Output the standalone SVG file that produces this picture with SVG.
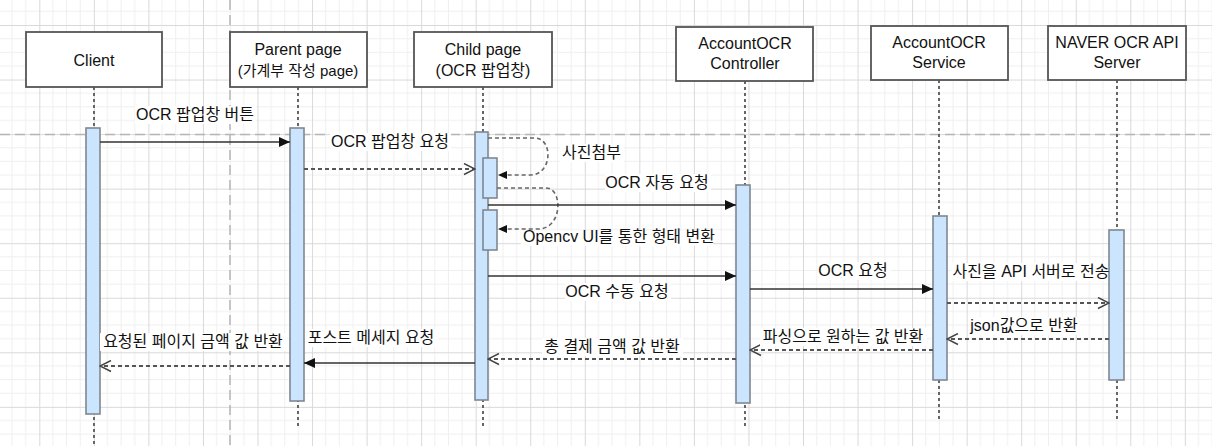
<svg xmlns="http://www.w3.org/2000/svg" width="1212" height="446" viewBox="0 0 1212 446">
<defs>
<pattern id="grid" patternUnits="userSpaceOnUse" x="39.3" y="25" width="54.55" height="54.55">
<path d="M13.64 0V54.55M27.27 0V54.55M40.91 0V54.55M0 13.64H54.55M0 27.27H54.55M0 40.91H54.55" stroke="#efefef" stroke-width="1" fill="none"/>
<path d="M0.5 0V54.55M0 0.5H54.55" stroke="#d9d9d9" stroke-width="1" fill="none"/>
</pattern>
<marker id="block" markerUnits="userSpaceOnUse" viewBox="0 0 11 10" refX="11" refY="5" markerWidth="11" markerHeight="10" orient="auto">
<path d="M0 0L11 5L0 10z" fill="#111"/>
</marker>
<marker id="open" markerUnits="userSpaceOnUse" viewBox="-1 -1 13 13" refX="11" refY="5.5" markerWidth="13" markerHeight="13" orient="auto">
<path d="M0 0L11 5.5L0 11" fill="none" stroke="#444" stroke-width="1.5"/>
</marker>
<marker id="small" markerUnits="userSpaceOnUse" viewBox="0 0 9 8" refX="9" refY="4" markerWidth="9" markerHeight="8" orient="auto">
<path d="M0 0L9 4L0 8z" fill="#111"/>
</marker>
</defs>
<style>
.box{fill:#fff;stroke:#555;stroke-width:1.8}
.bar{fill:#cce5ff;stroke:#7f8791;stroke-width:1.6}
.life{stroke:#666;stroke-width:2;stroke-dasharray:3 3;fill:none}
.guide{stroke:#b5b5b5;stroke-width:1.5;stroke-dasharray:10 5;fill:none}
.msg{stroke:#333;stroke-width:1.6;fill:none;marker-end:url(#block)}
.ret{stroke:#555;stroke-width:2;stroke-dasharray:4 3;fill:none;marker-end:url(#open)}
.self{stroke:#666;stroke-width:1.6;stroke-dasharray:4 3;fill:none;marker-end:url(#small)}
.h{font-family:"Liberation Sans","Noto Sans CJK KR",sans-serif;font-size:16px;fill:#111;text-anchor:middle}
.h2{font-size:15px}
.lbl{font-family:"Liberation Sans","Noto Sans CJK KR",sans-serif;font-size:16px;fill:#111}
.lbg{fill:#fff}
</style>
<rect width="1212" height="446" fill="#fff"/>
<rect width="1212" height="446" fill="url(#grid)"/>
<path class="guide" d="M230 0V446M0 134.5H1212"/>

<g id="lifelines">
<path class="life" d="M94 87V446M298 87V428M483 87V428M745 81V428M939 80V420M1117 80V420"/>
</g>

<g id="client">
<rect class="box" x="26" y="32" width="136" height="55"/>
<text class="h" x="94" y="66">Client</text>
<rect class="bar" x="86" y="128" width="14" height="286"/>
</g>
<g id="parent">
<rect class="box" x="230" y="32" width="137" height="55"/>
<text class="h" x="298" y="55">Parent page</text>
<text class="h h2" x="298" y="76">(가계부 작성 page)</text>
<rect class="bar" x="290" y="128" width="14" height="273"/>
</g>
<g id="child">
<rect class="box" x="414" y="32" width="138" height="55"/>
<text class="h" x="483" y="55">Child page</text>
<text class="h" x="483" y="76">(OCR 팝업창)</text>
<rect class="bar" x="475" y="132" width="13" height="268"/>
<rect class="bar" x="483" y="158" width="14" height="40"/>
<rect class="bar" x="483" y="210" width="14" height="40"/>
</g>
<g id="controller">
<rect class="box" x="676" y="27" width="137" height="54"/>
<text class="h" x="745" y="49">AccountOCR</text>
<text class="h" x="745" y="69">Controller</text>
<rect class="bar" x="736" y="185" width="14" height="218"/>
</g>
<g id="service">
<rect class="box" x="871" y="26" width="137" height="54"/>
<text class="h" x="939" y="48">AccountOCR</text>
<text class="h" x="939" y="68">Service</text>
<rect class="bar" x="933" y="216" width="14" height="164"/>
</g>
<g id="naver">
<rect class="box" x="1048" y="26" width="138" height="54"/>
<text class="h" x="1117" y="48">NAVER OCR API</text>
<text class="h" x="1117" y="68">Server</text>
<rect class="bar" x="1109" y="230" width="15" height="150"/>
</g>

<g id="connectors">
<path class="msg" d="M100 142H290"/>
<path class="ret" d="M304 169H475"/>
<path class="self" d="M488 138H535C553 138 553 175 530 175H498"/>
<path class="self" d="M497 188H546C563 188 563 229 538 229H498"/>
<path class="msg" d="M488 205H736"/>
<path class="msg" d="M488 276H736"/>
<path class="msg" d="M750 289H933"/>
<path class="ret" d="M947 303H1109"/>
<path class="ret" d="M1109 339H947"/>
<path class="ret" d="M933 350H750"/>
<path class="ret" d="M736 359H488"/>
<path class="msg" d="M475 363H304"/>
<path class="ret" d="M290 366H100"/>
</g>

<g id="labels">
<rect class="lbg" x="135" y="106" width="121" height="18"/>
<text class="lbl" x="195" y="120" text-anchor="middle">OCR 팝업창 버튼</text>
<rect class="lbg" x="330" y="133" width="121" height="18"/>
<text class="lbl" x="390" y="147" text-anchor="middle">OCR 팝업창 요청</text>
<rect class="lbg" x="560" y="144" width="64" height="18"/>
<text class="lbl" x="562" y="158">사진첨부</text>
<rect class="lbg" x="521" y="231" width="192" height="15"/>
<text class="lbl" x="523" y="242">Opencv UI를 통한 형태 변환</text>
<rect class="lbg" x="605" y="174" width="106" height="18"/>
<text class="lbl" x="657" y="188" text-anchor="middle">OCR 자동 요청</text>
<rect class="lbg" x="565" y="283" width="106" height="18"/>
<text class="lbl" x="617" y="297" text-anchor="middle">OCR 수동 요청</text>
<rect class="lbg" x="818" y="262" width="72" height="18"/>
<text class="lbl" x="853" y="276" text-anchor="middle">OCR 요청</text>
<rect class="lbg" x="951" y="263" width="157" height="18"/>
<text class="lbl" x="1031" y="277" text-anchor="middle">사진을 API 서버로 전송</text>
<rect class="lbg" x="969" y="317" width="111" height="18"/>
<text class="lbl" x="1024" y="331" text-anchor="middle">json값으로 반환</text>
<rect class="lbg" x="760" y="328" width="167" height="18"/>
<text class="lbl" x="843" y="342" text-anchor="middle">파싱으로 원하는 값 반환</text>
<rect class="lbg" x="542" y="338" width="141" height="18"/>
<text class="lbl" x="612" y="352" text-anchor="middle">총 결제 금액 값 반환</text>
<rect class="lbg" x="305" y="329" width="133" height="18"/>
<text class="lbl" x="371" y="343" text-anchor="middle">포스트 메세지 요청</text>
<rect class="lbg" x="100" y="333" width="187" height="18"/>
<text class="lbl" x="193" y="347" text-anchor="middle">요청된 페이지 금액 값 반환</text>
</g>
</svg>
